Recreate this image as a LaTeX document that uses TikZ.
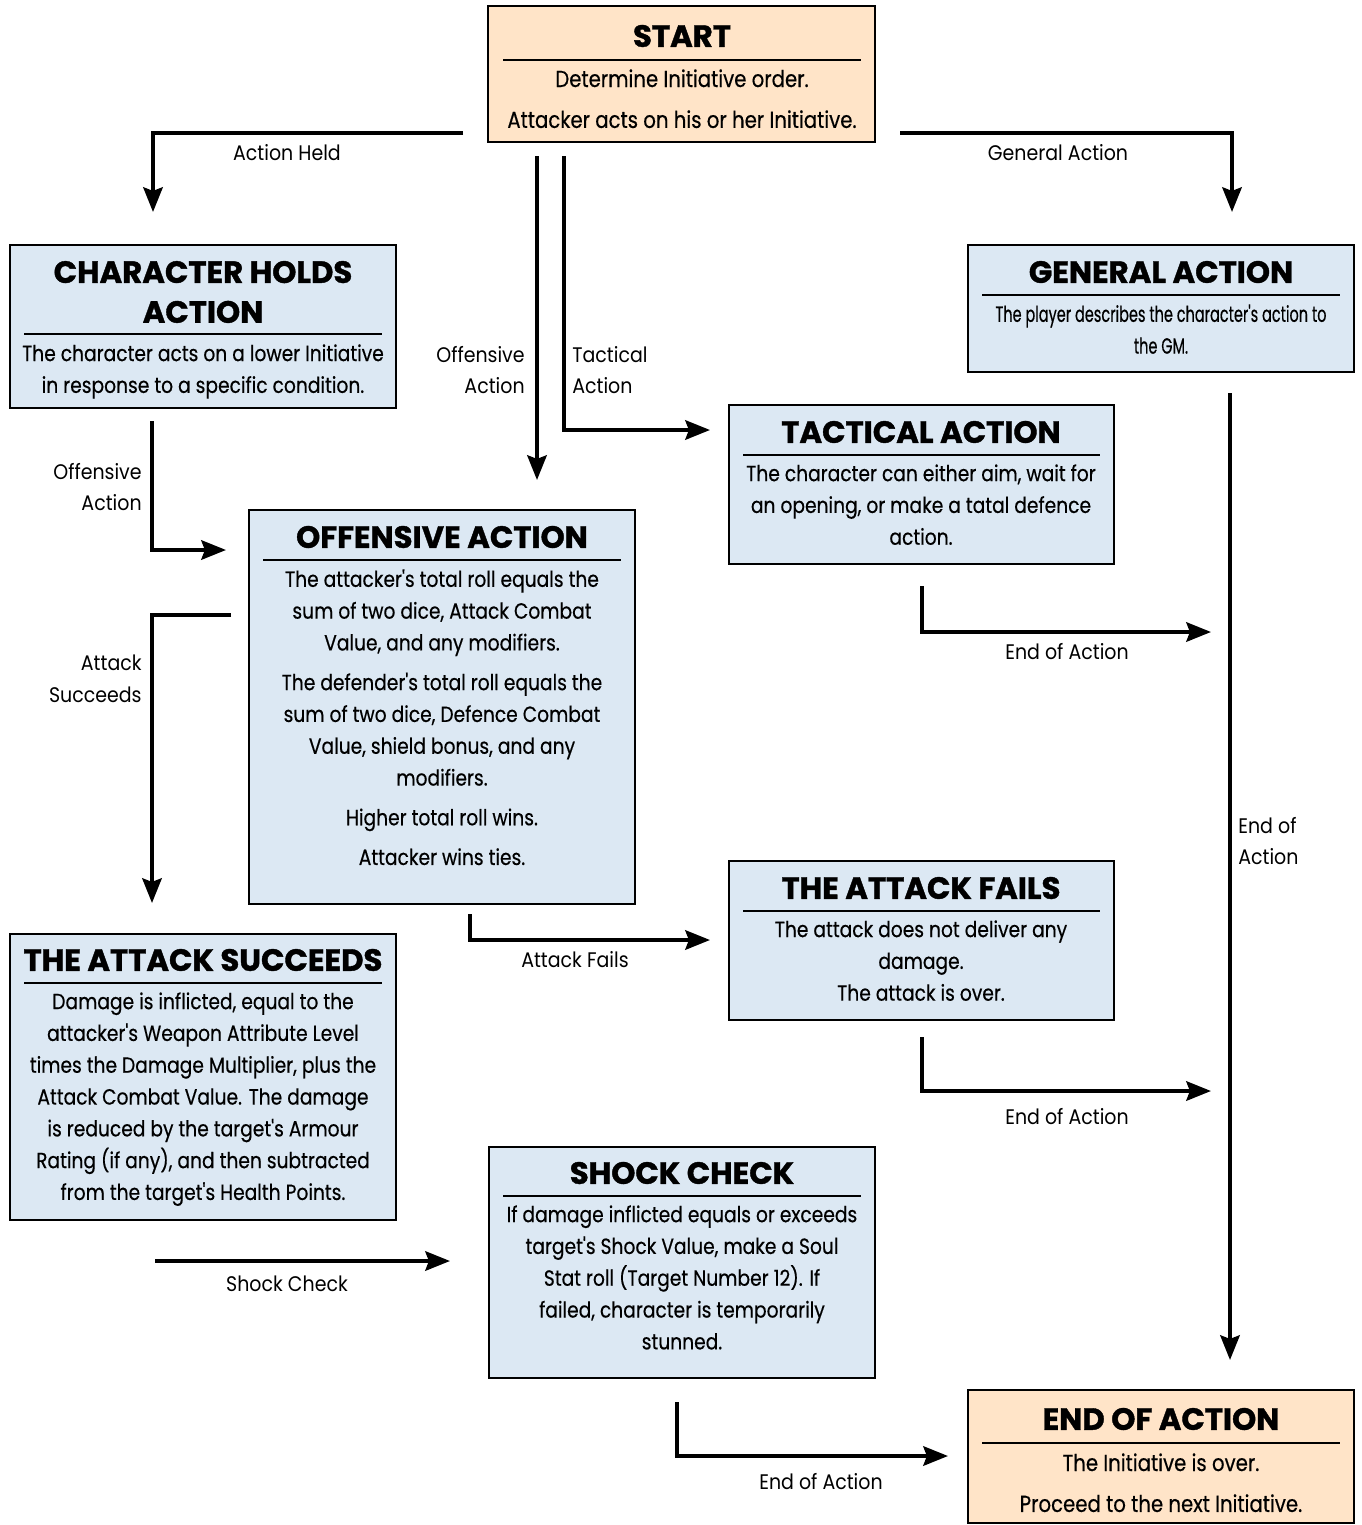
\documentclass[tikz,border=0pt]{standalone}
\usepackage{fontspec}
\usetikzlibrary{arrows.meta,positioning,fit}
\newfontfamily\headfont{Poppins}[FakeBold=1.2]
\newfontfamily\bodyfont{Poppins}[FakeStretch=0.85,FakeBold=0.4]
\newfontfamily\narrowfont{Poppins}[FakeStretch=0.66,FakeBold=0.4]
\newfontfamily\labelfont{Poppins}[FakeStretch=0.9]
\definecolor{peach}{HTML}{FFE4C8}
\definecolor{paleblue}{HTML}{DCE8F3}
\tikzset{
  box/.style={draw=black, line width=1.4pt, inner sep=0pt},
  startbox/.style={box, fill=peach},
  stepbox/.style={box, fill=paleblue},
  headtext/.style={font=\headfont\bfseries\fontsize{17.5}{22.7}\selectfont, align=center, inner sep=0pt},
  bodytext/.style={font=\bodyfont\fontsize{12.5}{18.1}\selectfont, align=center, inner sep=0pt, anchor=north},
  bigbody/.style={bodytext, font=\bodyfont\fontsize{13.2}{18.1}\selectfont},
  flowlabel/.style={font=\labelfont\fontsize{12}{18.1}\selectfont, inner sep=0pt},
  headrule/.style={line width=1pt},
  flow/.style={line width=2.3pt, ->},
}
\begin{document}
\begin{tikzpicture}[x=0.02cm,y=-0.02cm,>={Stealth[length=14pt,width=11pt,inset=2pt]}]
\useasboundingbox (0,0) rectangle (1362,1525);

% boxes
\node [startbox, fit={(488,6) (875,142)}] (start) {};
\node [stepbox, fit={(10,245) (396,408)}] (holds) {};
\node [stepbox, fit={(968,245) (1354,372)}] (general) {};
\node [stepbox, fit={(729,405) (1114,564)}] (tactical) {};
\node [stepbox, fit={(249,510) (635,904)}] (offensive) {};
\node [stepbox, fit={(729,861) (1114,1020)}] (fails) {};
\node [stepbox, fit={(10,934) (396,1220)}] (succeeds) {};
\node [stepbox, fit={(489,1147) (875,1378)}] (shock) {};
\node [startbox, fit={(968,1390) (1354,1523)}] (endaction) {};

% titles and rules
\node [headtext] (start title) at (682,36) {START};
\draw [headrule] (503,60) -- (861,60);
\node [headtext] (holds title) at (203,292) {CHARACTER HOLDS\\ACTION};
\draw [headrule] (24,334) -- (382,334);
\node [headtext] (general title) at (1161,272) {GENERAL ACTION};
\draw [headrule] (982,295) -- (1340,295);
\node [headtext] (tactical title) at (921,432) {TACTICAL ACTION};
\draw [headrule] (743,455) -- (1100,455);
\node [headtext] (offensive title) at (442,537) {OFFENSIVE ACTION};
\draw [headrule] (263,560) -- (621,560);
\node [headtext] (fails title) at (921,888) {THE ATTACK FAILS};
\draw [headrule] (743,911) -- (1100,911);
\node [headtext] (succeeds title) at (203,960) {THE ATTACK SUCCEEDS};
\draw [headrule] (24,983) -- (382,983);
\node [headtext] (shock title) at (682,1173) {SHOCK CHECK};
\draw [headrule] (503,1196) -- (861,1196);
\node [headtext] (end title) at (1161,1419) {END OF ACTION};
\draw [headrule] (982,1443) -- (1340,1443);

% box texts
\node [bigbody] (start text) at (682,69) {Determine Initiative order.\\[5.2pt]
  Attacker acts on his or her Initiative.};
\node [bodytext] (holds text) at (203,344) {The character acts on a lower Initiative\\
  in response to a specific condition.};
\node [bodytext, font=\narrowfont\fontsize{12.5}{18.1}\selectfont] (general text) at (1161,304)
  {The player describes the character's action to\\the GM.};
\node [bodytext] (tactical text) at (921,464) {The character can either aim, wait for\\
  an opening, or make a tatal defence\\action.};
\node [bodytext] (offensive text) at (442,569) {The attacker's total roll equals the\\
  sum of two dice, Attack Combat\\Value, and any modifiers.\\[4.5pt]
  The defender's total roll equals the\\sum of two dice, Defence Combat\\
  Value, shield bonus, and any\\modifiers.\\[4.5pt]
  Higher total roll wins.\\[4.5pt]Attacker wins ties.};
\node [bodytext] (fails text) at (921,920) {The attack does not deliver any\\
  damage.\\The attack is over.};
\node [bodytext] (succeeds text) at (203,992) {Damage is inflicted, equal to the\\
  attacker's Weapon Attribute Level\\times the Damage Multiplier, plus the\\
  Attack Combat Value. The damage\\is reduced by the target's Armour\\
  Rating (if any), and then subtracted\\from the target's Health Points.};
\node [bodytext] (shock text) at (682,1205) {If damage inflicted equals or exceeds\\
  target's Shock Value, make a Soul\\Stat roll (Target Number 12). If\\
  failed, character is temporarily\\stunned.};
\node [bigbody] (end text) at (1161,1453) {The Initiative is over.\\[5.2pt]
  Proceed to the next Initiative.};

% connector ends
\coordinate (held from) at (463,133);
\coordinate (held to) at (153,212);
\coordinate (general from) at (900,133);
\coordinate (general to) at (1232,212);
\coordinate (offensive from) at (537,156);
\coordinate (offensive to) at (537,480);
\coordinate (tactical from) at (564,156);
\coordinate (tactical to) at (710,430);
\coordinate (hold off from) at (152,421);
\coordinate (hold off to) at (226,550);
\coordinate (succeed from) at (231,615);
\coordinate (succeed to) at (152,903);
\coordinate (tactical end from) at (922,586);
\coordinate (tactical end to) at (1211,632);
\coordinate (general end from) at (1230,393);
\coordinate (general end to) at (1230,1360);
\coordinate (fail from) at (470,914);
\coordinate (fail to) at (710,940);
\coordinate (fail end from) at (922,1037);
\coordinate (fail end to) at (1211,1091);
\coordinate (shock from) at (155,1261);
\coordinate (shock to) at (450,1261);
\coordinate (shock end from) at (677,1402);
\coordinate (shock end to) at (948,1456);

% connectors
\draw [flow] (held from) -| (held to);
\draw [flow] (general from) -| (general to);
\draw [flow] (offensive from) -- (offensive to);
\draw [flow] (tactical from) |- (tactical to);
\draw [flow] (hold off from) |- (hold off to);
\draw [flow] (succeed from) -| (succeed to);
\draw [flow] (tactical end from) |- (tactical end to);
\draw [flow] (general end from) -- (general end to);
\draw [flow] (fail from) |- (fail to);
\draw [flow] (fail end from) |- (fail end to);
\draw [flow] (shock from) -- (shock to);
\draw [flow] (shock end from) |- (shock end to);

% connector labels
\node [flowlabel] (held label) at (287,153) {Action Held};
\node [flowlabel] (general label) at (1058,153) {General Action};
\node [flowlabel, align=right, anchor=east] (offensive label) at (525,370) {Offensive\\Action};
\node [flowlabel, align=left, anchor=west] (tactical label) at (572,370) {Tactical\\Action};
\node [flowlabel, align=right, anchor=east] (hold off label) at (142,487) {Offensive\\Action};
\node [flowlabel, align=right, anchor=east] (succeed label) at (142,679) {Attack\\Succeeds};
\node [flowlabel] (tactical end label) at (1067,652) {End of Action};
\node [flowlabel, align=left, anchor=west] (general end label) at (1238,841) {End of\\Action};
\node [flowlabel] (fail label) at (575,960) {Attack Fails};
\node [flowlabel] (fail end label) at (1067,1117) {End of Action};
\node [flowlabel] (shock label) at (287,1284) {Shock Check};
\node [flowlabel] (shock end label) at (821,1482) {End of Action};
\end{tikzpicture}
\end{document}
